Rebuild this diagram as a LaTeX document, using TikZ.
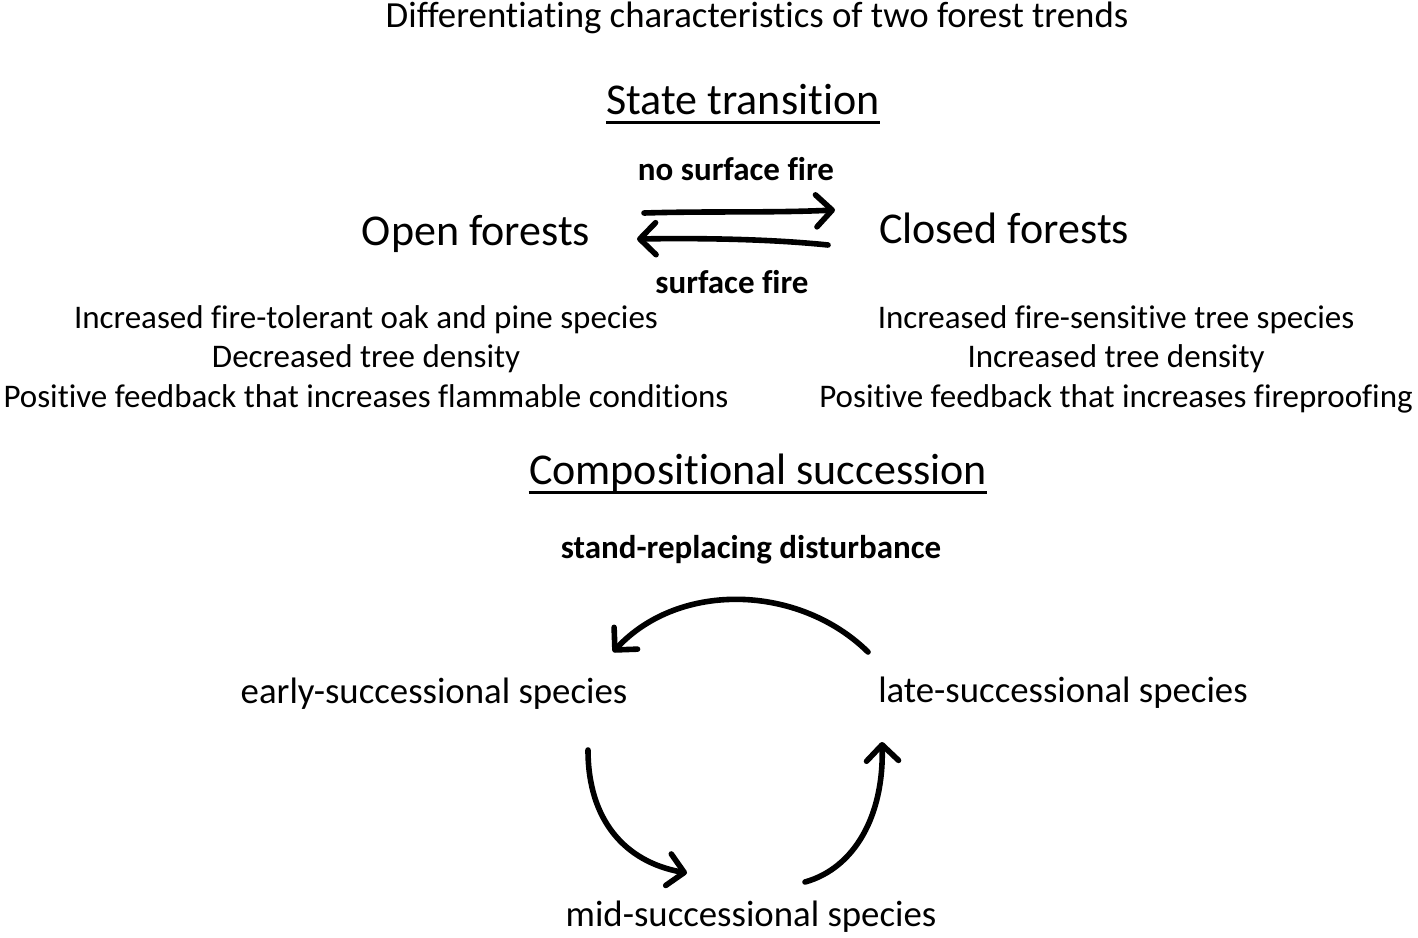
\documentclass[tikz,border=0pt]{standalone}
\usepackage{fontspec}
\setmainfont{Carlito}[Ligatures=NoCommon]
\usetikzlibrary{arrows.meta}
\begin{document}
\begin{tikzpicture}[x=0.5pt,y=-0.5pt,
  txt/.style={anchor=base,inner sep=0pt,font=\fontsize{16.5pt}{18pt}\selectfont},
  big/.style={anchor=base,inner sep=0pt,font=\fontsize{22pt}{24pt}\selectfont},
  mid/.style={anchor=base,inner sep=0pt,font=\fontsize{18.4pt}{20pt}\selectfont},
  lbl/.style={anchor=base,inner sep=0pt,font=\fontsize{16.5pt}{18pt}\selectfont\bfseries},
  uline/.style={line width=1.5pt},
  arr/.style={line width=2.8pt,line cap=round,-{Straight Barb[length=8pt,width=16pt,round]}}]
\useasboundingbox (0,0) rectangle (1418,937);
\node[txt,font=\fontsize{18.4pt}{20pt}\selectfont] (title) at (757,27) {Differentiating characteristics of two forest trends};
\node[big] (st) at (743,114) {State transition};
\draw[uline] ([yshift=-4pt]st.base west) -- ([yshift=-4pt]st.base east);
\node[lbl] (nsf) at (736,180) {no surface fire};
\node[big] (open) at (476,245) {Open forests};
\node[big] (closed) at (1004,243) {Closed forests};
\node[lbl] (sf) at (732,293) {surface fire};
\coordinate (a1) at (644,213);
\coordinate (a2) at (835,210);
\coordinate (b1) at (828,245);
\coordinate (b2) at (637,239);
\draw[arr] (a1) .. controls (710,211) and (770,213) .. (a2);
\draw[arr] (b1) .. controls (770,239) and (700,238) .. (b2);
\node[txt] (l1) at (366,328) {Increased fire-tolerant oak and pine species};
\node[txt] (l2) at (366,367) {Decreased tree density};
\node[txt] (l3) at (366,407) {Positive feedback that increases flammable conditions};
\node[txt] (r1) at (1116,328) {Increased fire-sensitive tree species};
\node[txt] (r2) at (1116,367) {Increased tree density};
\node[txt] (r3) at (1116,407) {Positive feedback that increases fireproofing};
\node[big] (cs) at (758,484) {Compositional succession};
\draw[uline] ([yshift=-4pt]cs.base west) -- ([yshift=-4pt]cs.base east);
\node[lbl] (srd) at (751,558) {stand-replacing disturbance};
\node[mid] (early) at (434,703) {early-successional species};
\node[mid] (late) at (1063,702) {late-successional species};
\node[mid] (midsp) at (751,926) {mid-successional species};
\coordinate (t1) at (868,652);
\coordinate (t2) at (613,652);
\coordinate (p1) at (588,750);
\coordinate (p2) at (687,873);
\coordinate (q1) at (805,882);
\coordinate (q2) at (882,742);
\draw[arr] (t1) .. controls (800,585) and (680,580) .. (t2);
\draw[arr] (p1) .. controls (588,820) and (625,862) .. (p2);
\draw[arr] (q1) .. controls (855,868) and (884,815) .. (q2);
\end{tikzpicture}
\end{document}
